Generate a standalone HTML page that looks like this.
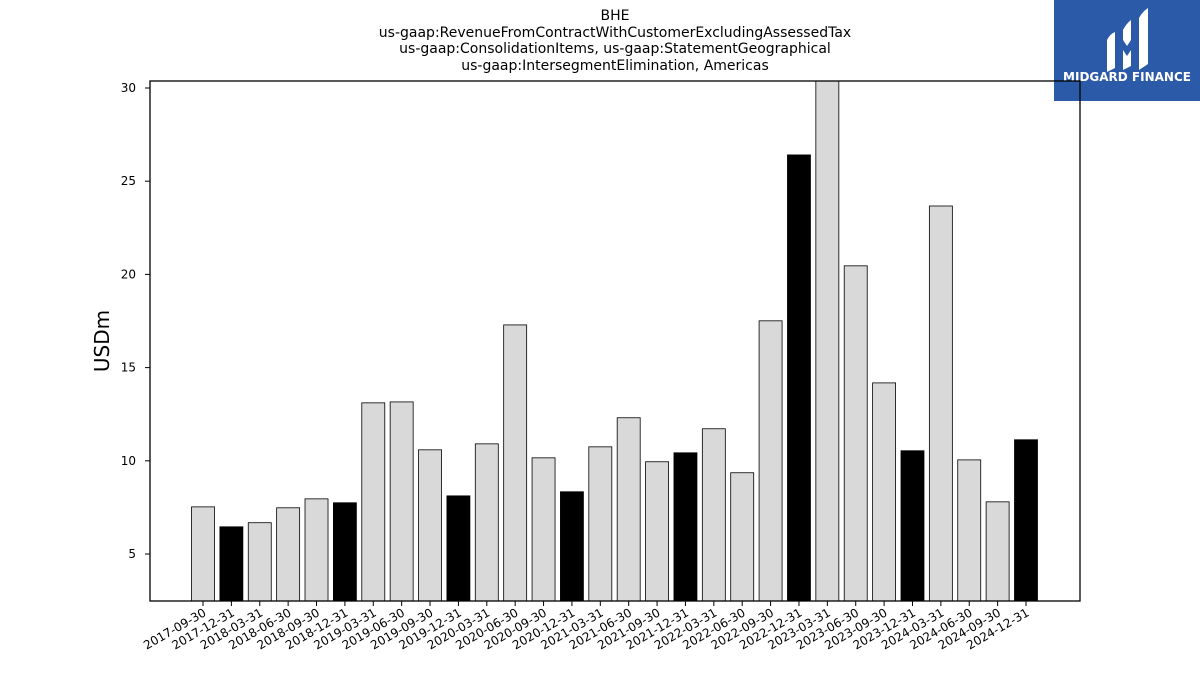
<!DOCTYPE html>
<html><head><meta charset="utf-8"><style>
body{margin:0;background:#fff;width:1200px;height:675px;overflow:hidden;font-family:"DejaVu Sans","Liberation Sans",sans-serif}
svg text{font-family:"DejaVu Sans","Liberation Sans",sans-serif}
</style></head><body>
<svg id="c" width="1200" height="675" xmlns="http://www.w3.org/2000/svg">
<g font-size="14" text-anchor="middle" fill="#000">
<text x="615" y="20">BHE</text>
<text x="615" y="37">us-gaap:RevenueFromContractWithCustomerExcludingAssessedTax</text>
<text x="615" y="53">us-gaap:ConsolidationItems, us-gaap:StatementGeographical</text>
<text x="615" y="70">us-gaap:IntersegmentElimination, Americas</text>
</g>
<g>
<rect x="1054" y="0" width="146" height="101" fill="#2b5aa8"/>
<path d="M1107 40 q3-6 8-8 v36 l-8 4z" fill="#fff"/>
<path d="M1123 30 q3-6 8-10 v20 l-4 6 -4-6z M1123 50 l4 6 4-6 v16 l-8 4z" fill="#fff"/>
<path d="M1139 18 q3-6 9-10 v56 l-9 6z" fill="#fff"/>
<text x="1127" y="81" font-size="12" font-weight="bold" fill="#fff" text-anchor="middle">MIDGARD FINANCE</text>
</g>
<g id="bars"></g>
<rect x="150" y="81" width="930" height="520" fill="none" stroke="#000" stroke-width="1.3"/>
<g id="yaxis"></g>
<g id="xaxis"></g>
<text x="109" y="341" font-size="20" text-anchor="middle" transform="rotate(-90 109 341)">USDm</text>
</svg>
<script>
const categories=["2017-09-30","2017-12-31","2018-03-31","2018-06-30","2018-09-30","2018-12-31","2019-03-31","2019-06-30","2019-09-30","2019-12-31","2020-03-31","2020-06-30","2020-09-30","2020-12-31","2021-03-31","2021-06-30","2021-09-30","2021-12-31","2022-03-31","2022-06-30","2022-09-30","2022-12-31","2023-03-31","2023-06-30","2023-09-30","2023-12-31","2024-03-31","2024-06-30","2024-09-30","2024-12-31"];
const values=[7.53,6.46,6.68,7.48,7.96,7.75,13.11,13.16,10.59,8.12,10.91,17.29,10.16,8.34,10.75,12.31,9.95,10.43,11.72,9.36,17.51,26.41,30.6,20.46,14.18,10.54,23.67,10.05,7.80,11.13];
const yTicks=[5,10,15,20,25,30];
const NS="http://www.w3.org/2000/svg";
const yMin=2.48,yMax=30.375,yTop=81,yBot=601;
const y=v=>yBot-(v-yMin)/(yMax-yMin)*(yBot-yTop);
const x=i=>203+i*(1026-203)/(categories.length-1);
function mk(t,a,p){const e=document.createElementNS(NS,t);for(const k in a)e.setAttribute(k,a[k]);p.appendChild(e);return e;}
const bars=document.getElementById('bars'),xa=document.getElementById('xaxis'),ya=document.getElementById('yaxis');
values.forEach((v,i)=>{
 const yt=Math.max(y(v),yTop);
 const r=mk('rect',{x:x(i)-11.5,y:yt,width:23,height:yBot-yt,fill:categories[i].endsWith('12-31')?'#000':'#d9d9d9',stroke:'#000','stroke-width':0.8},bars);
 
 
 mk('line',{x1:x(i),x2:x(i),y1:yBot,y2:yBot+5,stroke:'#000'},xa);
 const t=mk('text',{x:x(i)+4,y:yBot+14,'font-size':12,'text-anchor':'end',transform:`rotate(-30 ${x(i)+4} ${yBot+14})`},xa);
 t.textContent=categories[i];
 
 
});
yTicks.forEach(v=>{
 mk('line',{x1:145,x2:150,y1:y(v),y2:y(v),stroke:'#000'},ya);
 const t=mk('text',{x:136,y:y(v)+4,'font-size':12,'text-anchor':'end'},ya);
 t.textContent=v;
 
 
});
</script>
</body></html>
